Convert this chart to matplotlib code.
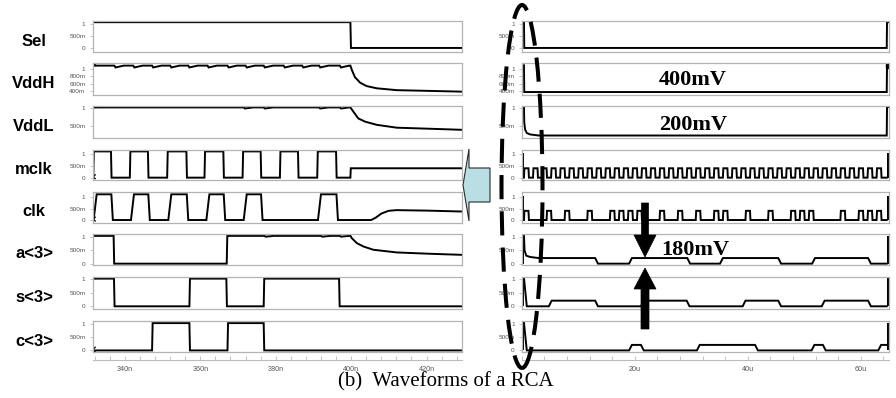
import matplotlib
matplotlib.use("Agg")
import matplotlib.pyplot as plt
from matplotlib.patches import Polygon, Ellipse
from matplotlib.ticker import FixedLocator, MultipleLocator

# ===================== data =====================
signal_names = ["Sel", "VddH", "VddL", "mclk", "clk", "a<3>", "s<3>", "c<3>"]

# ---- left window (time in ns)
left_xlim = (331.4, 429.4)
left_xticks = [340, 360, 380, 400, 420]
left_xticklabels = ["340n", "360n", "380n", "400n", "420n"]

# ---- right window (time in us)
right_xlim = (0.0, 65.0)
right_xticks = [20, 40, 60]
right_xticklabels = ["20u", "40u", "60u"]

ytick_vals = [0, 0.5, 1]
ytick_labels = ["0", "500m", "1"]
vddh_ytick_vals = [0.4, 0.6, 0.8, 1.0]
vddh_ytick_labels = ["400m", "600m", "800m", "1"]

# start-of-trace markers (left window): value just before the trace settles
start_mark_high = [True, True, True, False, False, True, True, False]

# Sel
sel_L_edges = [399.8]
sel_L_levels = [1.08, 0.0]
# VddH
vddh_L_high = 1.09
vddh_L_dips = [337.2, 342.2, 347.2, 352.0, 356.8, 361.9, 367.2, 372.0, 376.8, 382.1, 387.0, 391.5, 397.0]
vddh_L_decay_t = [399.8, 400.2, 401.0, 402.4, 404.1, 406.8, 412.1, 420.9, 429.4]
vddh_L_decay_v = [1.09, 0.97, 0.78, 0.63, 0.54, 0.48, 0.43, 0.41, 0.39]
# VddL
vddl_L_high = 1.02
vddl_L_dips = [371.5, 376.8, 391.5, 397.0]
vddl_L_decay_t = [399.8, 400.6, 401.9, 403.7, 406.8, 412.1, 420.9, 429.4]
vddl_L_decay_v = [1.02, 0.90, 0.71, 0.62, 0.53, 0.45, 0.42, 0.39]
# mclk
mclk_L_rise = [331.6, 341.3, 351.2, 361.1, 371.2, 381.1, 391.0]
mclk_L_fall = [336.3, 346.1, 356.3, 366.1, 376.0, 385.9, 396.0]
mclk_L_high = 1.12
mclk_L_after = 0.40
# clk
clk_L_rise = [331.7, 341.6, 351.5, 361.6, 371.5, 391.2]
clk_L_fall = [336.4, 346.2, 356.4, 366.2, 376.1, 396.1]
clk_L_high = 1.12
clk_L_after_t = [396.8, 405.3, 406.5, 408.0, 409.9, 412.0, 420.0, 429.4]
clk_L_after_v = [0.0, 0.0, 0.10, 0.28, 0.40, 0.43, 0.41, 0.37]
# a<3>
a_L_edges = [337.0, 367.0]
a_L_levels = [1.04, 0.0, 1.04]
a_L_dips = [377.0, 392.0, 397.0]
a_L_decay_t = [399.8, 400.2, 401.5, 403.3, 405.9, 412.1, 420.9, 429.4]
a_L_decay_v = [1.04, 0.95, 0.77, 0.64, 0.52, 0.42, 0.37, 0.33]
# s<3>
s_L_edges = [337.1, 357.1, 366.9, 376.8, 396.8]
s_L_levels = [1.03, 0.0, 1.03, 0.0, 1.03, 0.0]
# c<3>
c_L_edges = [347.2, 357.1, 367.2, 376.8]
c_L_levels = [0.0, 1.04, 0.0, 1.04, 0.0]

# ---- right window signals
sel_R_edges = [0.4, 64.6]
sel_R_levels = [1.08, 0.0, 1.08]
vddh_R_edges = [0.4, 64.6]
vddh_R_levels = [1.10, 0.38, 1.10]
vddl_R_t = [0.0, 0.4, 0.45, 0.6, 0.9, 1.5, 3.0, 64.6, 64.65, 65.0]
vddl_R_v = [1.03, 1.03, 0.60, 0.40, 0.30, 0.26, 0.23, 0.23, 1.03, 1.03]
mclk_R_rise = [0.4, 2.0, 3.6, 5.2, 6.8, 8.4, 10.0, 11.6, 13.2, 14.8, 16.4, 18.0, 19.6,
               21.2, 22.8, 24.4, 26.0, 27.6, 29.2, 30.8, 32.4, 34.0, 35.6, 37.2, 38.8,
               40.4, 42.0, 43.6, 45.2, 46.8, 48.4, 50.0, 51.6, 53.2, 54.8, 56.4, 58.0,
               59.6, 61.2, 62.8]
mclk_R_width = 0.8
clk_R_rise = [0.4, 4.4, 7.6, 11.6, 15.6, 17.2, 18.8, 20.4, 24.4, 27.6, 30.8, 34.0, 35.6,
              39.6, 43.6, 47.6, 49.2, 50.8, 56.4, 59.6, 61.2, 62.8]
clk_R_width = 0.8
clk_level_R = 0.40
a_R_start_t = [0.0, 0.4, 0.5, 0.8, 1.5, 3.0]
a_R_start_v = [1.05, 1.05, 0.50, 0.30, 0.25, 0.21]
a_R_edges = [13.0, 19.0, 29.3, 35.1, 45.4, 51.4, 61.3]
a_R_levels = [0.21, 0.0, 0.21, 0.0, 0.21, 0.0, 0.21, 0.0]
s_R_edges = [0.4, 4.8, 13.0, 21.1, 29.2, 39.1, 45.4, 53.1, 61.3]
s_R_levels = [1.05, 0.0, 0.21, 0.0, 0.21, 0.0, 0.21, 0.0, 0.21, 0.0]
c_R_edges = [0.4, 19.0, 21.1, 31.0, 41.3, 51.3, 53.3, 63.1]
c_R_levels = [1.05, 0.0, 0.21, 0.0, 0.21, 0.0, 0.21, 0.0, 0.21]
burst_R = (64.6, 65.0)
burst_level = 1.05

# ===================== layout =====================
W, H = 896, 398
fig = plt.figure(figsize=(W / 100, H / 100), dpi=100)

left_px = (92.5, 462.0)
right_px = (521.7, 889.0)
row_tops = [21, 63, 106, 150, 192, 234, 277, 321]
row_bots = [52, 95, 138, 180, 223, 265, 309, 352]
row_ylims = [(-0.17, 1.13), (0.30, 1.16), (0.16, 1.06), (-0.10, 1.18),
             (-0.13, 1.22), (-0.05, 1.11), (-0.10, 1.09), (-0.06, 1.12)]
xaxis_y = 360

LINE = dict(color="black", lw=1.4, solid_joinstyle="miter")
TICKCOL = "#555555"
FRAMECOL = "#b3b3b3"
SANS = ["Liberation Sans", "DejaVu Sans"]
SERIF = ["Liberation Serif", "DejaVu Serif"]


def rect(px, top, bot):
    return [px[0] / W, 1 - bot / H, (px[1] - px[0]) / W, (bot - top) / H]


def step_wave(x0, x1, edges, levels, tr):
    t, v = [x0], [levels[0]]
    for i, e in enumerate(edges):
        t += [e, e + tr]
        v += [levels[i], levels[i + 1]]
    t.append(x1)
    v.append(levels[-1])
    return t, v


def pulses(x0, x1, rises, falls, hi, tr_up, tr_dn):
    t, v = [x0], [0.0]
    for r, f in zip(rises, falls):
        t += [r, r + tr_up, f, f + tr_dn]
        v += [0.0, hi, hi, 0.0]
    return t, v


def ripple(x0, x1, base, dips, depth):
    t, v = [x0], [base]
    for d in dips:
        t += [d, d + 0.3, d + 2.5]
        v += [base, base - depth, base]
    t.append(x1)
    v.append(base)
    return t, v


def style_axes(ax, ylim, yt, ytl, xlim):
    ax.set_xlim(*xlim)
    ax.set_ylim(*ylim)
    for s in ax.spines.values():
        s.set_color(FRAMECOL)
        s.set_linewidth(0.9)
    ax.set_xticks([])
    ax.yaxis.set_major_locator(FixedLocator(yt))
    ax.set_yticklabels(ytl, fontsize=4.6, color=TICKCOL, family=SANS)
    ax.tick_params(axis="y", length=2.5, width=0.6, color="#bbbbbb", pad=2.5)


# ---------- build left window ----------
xL0, xL1 = left_xlim
left_waves = []
left_waves.append(step_wave(xL0, xL1, sel_L_edges, sel_L_levels, 0.15))
t, v = ripple(xL0, vddh_L_decay_t[0], vddh_L_high, vddh_L_dips, 0.05)
left_waves.append((t + vddh_L_decay_t[1:], v + vddh_L_decay_v[1:]))
t, v = ripple(xL0, vddl_L_decay_t[0], vddl_L_high, vddl_L_dips, 0.03)
left_waves.append((t + vddl_L_decay_t[1:], v + vddl_L_decay_v[1:]))
t, v = pulses(xL0, xL1, mclk_L_rise, mclk_L_fall, mclk_L_high, 0.15, 0.15)
t += [399.8, 399.9, xL1]
v += [0.0, mclk_L_after, mclk_L_after]
left_waves.append((t, v))
t, v = pulses(xL0, xL1, clk_L_rise, clk_L_fall, clk_L_high, 0.8, 0.4)
left_waves.append((t + clk_L_after_t, v + clk_L_after_v))
t, v = step_wave(xL0, 367.2, a_L_edges, a_L_levels, 0.15)
t2, v2 = ripple(367.2, a_L_decay_t[0], a_L_levels[-1], a_L_dips, 0.03)
left_waves.append((t + t2 + a_L_decay_t[1:], v + v2 + a_L_decay_v[1:]))
left_waves.append(step_wave(xL0, xL1, s_L_edges, s_L_levels, 0.15))
left_waves.append(step_wave(xL0, xL1, c_L_edges, c_L_levels, 0.15))

# ---------- build right window ----------
xR0, xR1 = right_xlim
right_waves = []
right_waves.append(step_wave(xR0, xR1, sel_R_edges, sel_R_levels, 0.05))
right_waves.append(step_wave(xR0, xR1, vddh_R_edges, vddh_R_levels, 0.05))
right_waves.append((vddl_R_t, vddl_R_v))
mclk_R_fall = [r + mclk_R_width for r in mclk_R_rise]
t, v = pulses(xR0, xR1, mclk_R_rise, mclk_R_fall, clk_level_R, 0.08, 0.08)
right_waves.append((t + [burst_R[0]], v + [0.0]))
clk_R_fall = [r + clk_R_width for r in clk_R_rise]
t, v = pulses(xR0, xR1, clk_R_rise, clk_R_fall, clk_level_R, 0.08, 0.08)
right_waves.append((t + [burst_R[0]], v + [0.0]))
t, v = step_wave(a_R_start_t[-1], burst_R[0], a_R_edges, a_R_levels, 0.5)
right_waves.append((a_R_start_t + t, a_R_start_v + v))
right_waves.append(step_wave(xR0, burst_R[0], s_R_edges, s_R_levels, 0.5))
right_waves.append(step_wave(xR0, burst_R[0], c_R_edges, c_R_levels, 0.5))

burst_rows = [3, 4, 5, 6, 7]

for i, name in enumerate(signal_names):
    yt, ytl = (vddh_ytick_vals, vddh_ytick_labels) if name == "VddH" else (ytick_vals, ytick_labels)
    axL = fig.add_axes(rect(left_px, row_tops[i], row_bots[i]))
    style_axes(axL, row_ylims[i], yt, ytl, left_xlim)
    axL.plot(*left_waves[i], **LINE)
    # small start-of-trace marker
    y0 = left_waves[i][1][0] if start_mark_high[i] else 0.0
    if start_mark_high[i]:
        axL.plot([xL0 + 0.15, xL0 + 0.9], [y0 + 0.1, y0], color="black", lw=1.0)
    else:
        axL.plot([xL0 + 0.7, xL0 + 0.1, xL0 + 0.7], [y0 + 0.12, y0 + 0.02, y0 - 0.04],
                 color="black", lw=1.0)

    axR = fig.add_axes(rect(right_px, row_tops[i], row_bots[i]))
    style_axes(axR, row_ylims[i], yt, ytl, right_xlim)
    axR.plot(*right_waves[i], **LINE)
    if i in burst_rows:
        # dense full-swing activity at both window edges
        axR.fill_between([xR0, 0.4], [0, 0], [burst_level] * 2, color="black", lw=0)
        axR.fill_between(burst_R, [0, 0], [burst_level] * 2, color="black", lw=0)
    if name == "VddH":
        axR.plot([burst_R[1] - 0.2], [1.08], "s", color="black", ms=2.5)

    fig.text(34 / W, 1 - ((row_tops[i] + row_bots[i]) / 2 + 4.5) / H, name,
             ha="center", va="center", fontsize=12, fontweight="bold", family=SANS)

# ---------- x axes ----------
for px, xlim, ticks, labels, minor in [
    (left_px, left_xlim, left_xticks, left_xticklabels, 4),
    (right_px, right_xlim, right_xticks, right_xticklabels, 4),
]:
    ax = fig.add_axes([px[0] / W, 1 - xaxis_y / H, (px[1] - px[0]) / W, 0.0001])
    ax.set_xlim(*xlim)
    ax.set_yticks([])
    for s in ["top", "left", "right"]:
        ax.spines[s].set_visible(False)
    ax.spines["bottom"].set_color("#bbbbbb")
    ax.spines["bottom"].set_linewidth(0.8)
    ax.xaxis.set_major_locator(FixedLocator(ticks))
    ax.xaxis.set_minor_locator(MultipleLocator(minor))
    ax.set_xticklabels(labels, fontsize=5.2, color=TICKCOL, family=SANS)
    ax.tick_params(axis="x", which="both", direction="in", length=3, width=0.6,
                   color="#bbbbbb", pad=4)
    ax.patch.set_visible(False)


def F(x, y):
    return (x / W, 1 - y / H)


# ---------- annotations ----------
for txt, x, y in [("400mV", 693, 80), ("200mV", 693, 125), ("180mV", 695, 250)]:
    fig.text(*F(x, y), txt, ha="center", va="center", fontsize=16,
             fontweight="bold", family=SERIF)

# black arrows
down = [F(641.5, 203), F(648.5, 203), F(648.5, 235), F(656, 235), F(645, 257),
        F(634, 235), F(641.5, 235)]
up = [F(641, 329), F(649, 329), F(649, 289), F(656, 289), F(645, 268),
      F(634, 289), F(641, 289)]
for pts in (down, up):
    fig.add_artist(Polygon(pts, closed=True, transform=fig.transFigure,
                           facecolor="black", edgecolor="black", lw=0.5))

# light blue arrow
blue = [F(463, 185), F(469, 149), F(469, 168), F(490, 168), F(490, 202),
        F(469, 202), F(469, 221)]
fig.add_artist(Polygon(blue, closed=True, transform=fig.transFigure,
                       facecolor="#b9dee4", edgecolor="#2a2a2a", lw=0.8))

# dashed ellipse
fig.add_artist(Ellipse(F(522, 186.5), 41 / W, 363 / H, transform=fig.transFigure,
                       fill=False, edgecolor="black", lw=2.9,
                       linestyle=(0, (6, 3))))

# caption
fig.text(*F(446, 382), "(b)  Waveforms of a RCA", ha="center", va="center",
         fontsize=15, family=SERIF)

fig.savefig("out.png", dpi=100)
